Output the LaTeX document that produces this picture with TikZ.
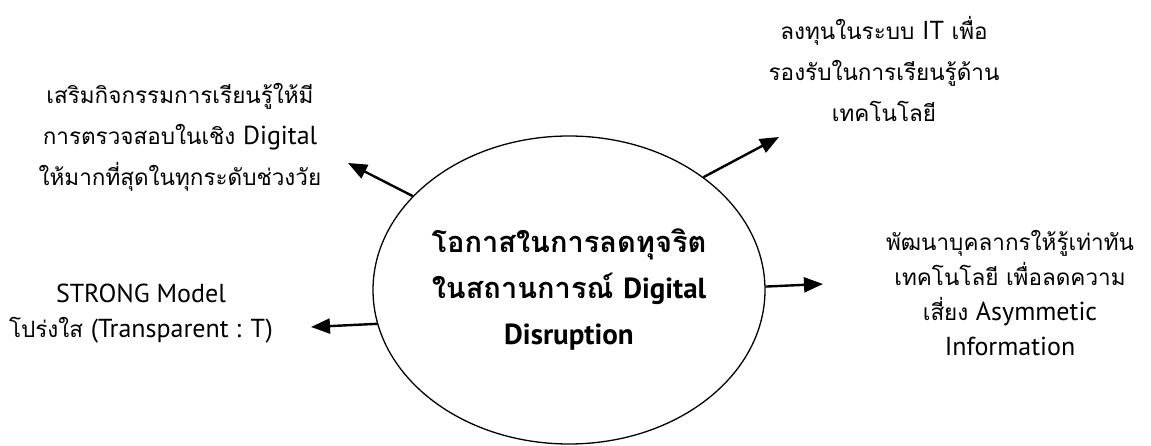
\documentclass[tikz,border=0pt]{standalone}
\usepackage{fontspec}
\newfontfamily\thai[Script=Thai]{Loma}
\newfontfamily\latf{PT Sans}
\newcommand{\lat}[1]{{\latf\fontsize{26}{26}\selectfont #1}}
\newcommand{\latb}[1]{{\latf\bfseries\fontsize{29}{29}\selectfont #1}}
\usetikzlibrary{shapes.geometric,arrows.meta}
\tikzset{
  lbl/.style={align=center,inner sep=0pt,font=\thai\fontsize{22.5}{41}\selectfont},
  lblb/.style={align=center,inner sep=0pt,font=\thai\fontsize{22.5}{35}\selectfont},
  hub/.style={ellipse,draw,line width=1.3pt,minimum width=392pt,minimum height=308pt,inner sep=0pt,align=center,font=\thai\bfseries\fontsize{29}{46}\selectfont},
  conn/.style={line width=2.4pt,-{Triangle[length=19pt,width=15pt]}}
}
\begin{document}
\begin{tikzpicture}[x=1pt,y=-1pt]
\useasboundingbox (0,0) rectangle (1151,446);
\node[hub] (c) at (569,290) {โอกาสในการลดทุจริต\\ในสถานการณ์ \latb{Digital}\\\latb{Disruption}};
\node[lbl] (tl) at (180,137) {เสริมกิจกรรมการเรียนรู้ให้มี\\การตรวจสอบในเชิง \lat{Digital}\\ให้มากที่สุดในทุกระดับช่วงวัย};
\node[lbl] (tr) at (884,69) {ลงทุนในระบบ \lat{IT} เพื่อ\\รองรับในการเรียนรู้ด้าน\\เทคโนโลยี};
\node[lblb] (r) at (1010,293) {พัฒนาบุคลากรให้รู้เท่าทัน\\เทคโนโลยี เพื่อลดความ\\เสี่ยง \lat{Asymmetic}\\\lat{Information}};
\node[lblb] (bl) at (141,314) {\lat{STRONG Model}\\โปร่งใส \lat{(Transparent : T)}};
\coordinate (t1) at (348,163);
\coordinate (t2) at (779,137);
\coordinate (t3) at (823,284);
\coordinate (t4) at (311,327);
\draw[conn] (c.149.6) -- (t1);
\draw[conn] (c.40.8) -- (t2);
\draw[conn] (c.1.5) -- (t3);
\draw[conn] (c.190.4) -- (t4);
\end{tikzpicture}
\end{document}
